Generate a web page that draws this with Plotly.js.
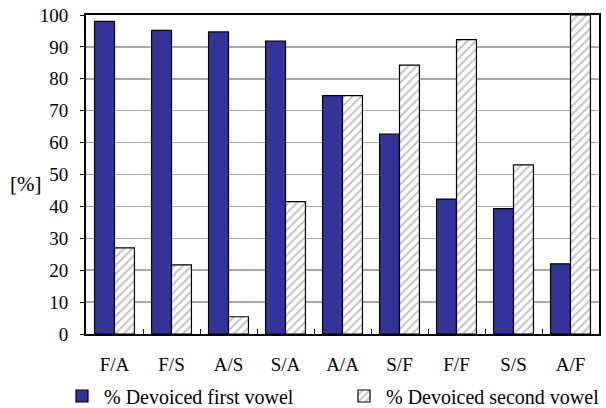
<!DOCTYPE html>
<html>
<head>
<meta charset="utf-8">
<script src="https://cdn.plot.ly/plotly-3.0.1.min.js"></script>
<style>html,body{margin:0;padding:0;background:#fff}#chart{width:606px;height:408px}</style>
</head>
<body>
<div id="chart"></div>
<script>
const categories = ["F/A","F/S","A/S","S/A","A/A","S/F","F/F","S/S","A/F"];
const firstVowel = [98, 95.2, 94.7, 91.8, 74.7, 62.7, 42.3, 39.3, 22];
const secondVowel = [27, 21.7, 5.4, 41.5, 74.7, 84.3, 92.3, 53, 100];
const seriesNames = ["% Devoiced first vowel", "% Devoiced second vowel"];
const yTicks = [0,10,20,30,40,50,60,70,80,90,100];

const serif = "Liberation Serif, Times New Roman, serif";
const font = {family: serif, size: 19, color: "#000"};
const legendFont = {family: serif, size: 20, color: "#000"};

const traces = [
  {type: "bar", x: categories, y: firstVowel, name: seriesNames[0], legend: "legend",
   marker: {color: "#333399", line: {color: "#000", width: 1.2}}},
  {type: "bar", x: categories, y: secondVowel, name: seriesNames[1], legend: "legend2",
   marker: {color: "#ffffff", line: {color: "#000", width: 1.2},
     pattern: {shape: "/", fgcolor: "#c4c4c4", bgcolor: "#ffffff", size: 6, solidity: 0.35}}}
];

const legendBase = {orientation: "h", xref: "container", yref: "container", xanchor: "left", yanchor: "middle",
  font: legendFont, itemclick: false, bgcolor: "rgba(0,0,0,0)", itemwidth: 34};

const layout = {
  width: 606, height: 408,
  margin: {l: 86, r: 7, t: 15, b: 74},
  paper_bgcolor: "#fff", plot_bgcolor: "#fff",
  font: font,
  barmode: "group", bargap: 0.3, bargroupgap: 0,
  showlegend: true,
  legend: Object.assign({}, legendBase, {x: 60 / 606, y: 1 - 396 / 408}),
  legend2: Object.assign({}, legendBase, {x: 342 / 606, y: 1 - 396 / 408}),
  xaxis: {type: "category", showline: true, linecolor: "#000", linewidth: 2, mirror: true,
    ticks: "inside", tickson: "boundaries", ticklen: 5, tickcolor: "#000", tickwidth: 1,
    ticklabelstandoff: 12, showgrid: false, tickfont: font},
  yaxis: {range: [0, 100], tickvals: yTicks, showline: true, linecolor: "#000", linewidth: 2, mirror: true,
    ticks: "outside", ticklen: 4, tickcolor: "#000", ticklabelstandoff: 8,
    showgrid: true, gridcolor: "#a8a8a8", gridwidth: 1.5, zeroline: false, tickfont: font},
  annotations: [{text: "[%]", xref: "paper", yref: "paper", x: (8 - 86) / 513, y: (334 - 184) / 319,
    xanchor: "left", yanchor: "middle", showarrow: false, font: {family: serif, size: 21, color: "#000"}}]
};

Plotly.newPlot("chart", traces, layout, {displayModeBar: false, staticPlot: true});
</script>
</body>
</html>
